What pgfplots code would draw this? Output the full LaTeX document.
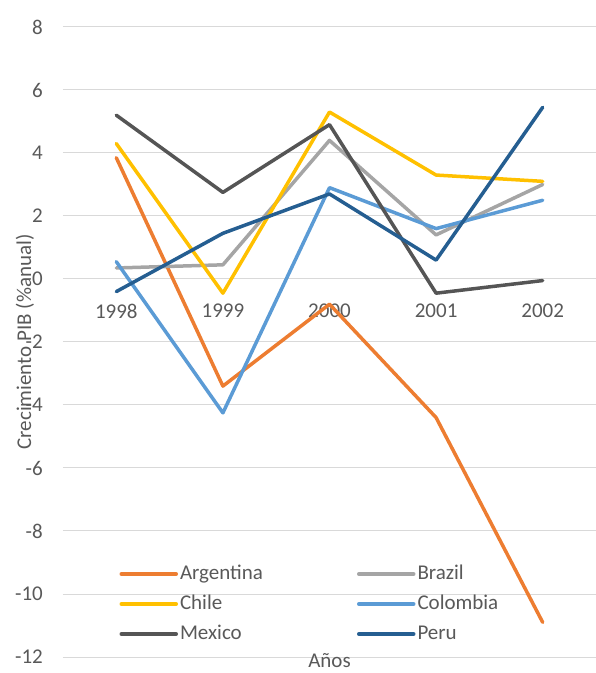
\documentclass[border=0pt]{standalone}
\usepackage{pgfplots}
\pgfplotsset{compat=1.18}
\usepackage{fontspec}
\setmainfont{Carlito}
\definecolor{cArg}{HTML}{ED7D31}
\definecolor{cBra}{HTML}{A5A5A5}
\definecolor{cChi}{HTML}{FFC000}
\definecolor{cCol}{HTML}{5B9BD5}
\definecolor{cMex}{HTML}{555555}
\definecolor{cPer}{HTML}{255E91}
\definecolor{txt}{HTML}{595959}
\definecolor{grd}{HTML}{D9D9D9}
\begin{document}
\fontsize{21}{25}\selectfont
\begin{tikzpicture}
\useasboundingbox (-63pt,-16pt) rectangle (533pt,657pt);
\begin{axis}[
  at={(0pt,0pt)}, anchor=south west,
  scale only axis, width=533pt, height=630pt,
  xmin=-0.5, xmax=4.5, ymin=-12, ymax=8,
  xtick={0,1,2,3,4},
  xticklabels={1998,1999,2000,2001,2002},
  ytick={-12,-10,...,8},
  axis line style={draw=none},
  major tick length=0pt,
  ymajorgrids,
  grid style={grd, line width=1pt},
  /pgf/number format/assume math mode=true,
  ticklabel style={font=\fontsize{21}{25}\selectfont, text=txt},
  yticklabel style={anchor=east, inner xsep=0pt, xshift=-20pt},
  xticklabel style={anchor=center, yshift=346pt},
  xlabel={Años}, ylabel={Crecimiento PIB (\%anual)},
  every axis x label/.style={at={(axis description cs:0.5,-0.006)}, anchor=center, font=\fontsize{21}{25}\selectfont, text=txt, inner sep=0pt},
  every axis y label/.style={at={(axis description cs:-0.0713,0.5)}, rotate=90, anchor=center, font=\fontsize{21}{25}\selectfont, text=txt},
  legend columns=2,
  legend style={draw=none, fill=none, at={(axis description cs:0.1,0.159)}, anchor=north west,
    font=\fontsize{21}{25}\selectfont, text=txt,
    nodes={text width=175pt, align=left, inner xsep=2pt, inner ysep=5pt, text height=15pt, text depth=5pt, anchor=west}},
  legend image code/.code={\draw[#1, line width=3.5pt] (0pt,0pt) -- (55pt,0pt);},
  every axis plot/.append style={line width=3.5pt, line join=round, line cap=round, mark=none},
]
\addplot[cArg] coordinates {(0,3.85) (1,-3.4) (2,-0.8) (3,-4.4) (4,-10.9)};
\addlegendentry{Argentina}
\addplot[cBra] coordinates {(0,0.35) (1,0.45) (2,4.4) (3,1.4) (4,3.0)};
\addlegendentry{Brazil}
\addplot[cChi] coordinates {(0,4.3) (1,-0.45) (2,5.3) (3,3.3) (4,3.1)};
\addlegendentry{Chile}
\addplot[cCol] coordinates {(0,0.55) (1,-4.25) (2,2.9) (3,1.6) (4,2.5)};
\addlegendentry{Colombia}
\addplot[cMex] coordinates {(0,5.2) (1,2.75) (2,4.9) (3,-0.45) (4,-0.05)};
\addlegendentry{Mexico}
\addplot[cPer] coordinates {(0,-0.4) (1,1.45) (2,2.7) (3,0.6) (4,5.45)};
\addlegendentry{Peru}
\end{axis}
\end{tikzpicture}
\end{document}
